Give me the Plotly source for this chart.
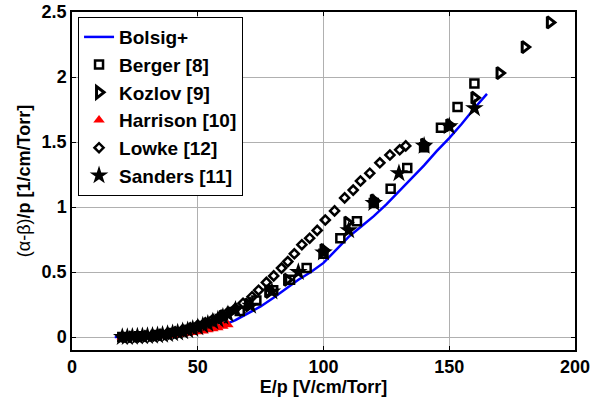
import plotly.graph_objects as go

# Bolsig+ computed curve
bolsig_x = [17, 20, 25, 30, 35, 40, 45, 50, 55, 60, 65, 70, 75, 80, 85, 90, 95, 100, 105, 110, 115, 120, 125, 130, 135, 140, 145, 150, 155, 160, 165]
bolsig_y = [0.0, 0.0, 0.002, 0.005, 0.01, 0.018, 0.03, 0.045, 0.065, 0.09, 0.13, 0.18, 0.235, 0.30, 0.37, 0.44, 0.50, 0.57, 0.67, 0.77, 0.85, 0.93, 1.02, 1.12, 1.22, 1.32, 1.43, 1.53, 1.64, 1.76, 1.87]

berger_x = [20, 26.7, 33.3, 40, 46.7, 53.3, 60, 66.7, 73.3, 80, 86.7, 93.3, 100, 106.7, 113.3, 120, 126.7, 133.3, 140, 146.7, 153.3, 160]
berger_y = [0.0, 0.005, 0.015, 0.03, 0.055, 0.09, 0.14, 0.20, 0.28, 0.36, 0.44, 0.53, 0.64, 0.76, 0.89, 1.03, 1.14, 1.30, 1.46, 1.61, 1.77, 1.95]

kozlov_x = [60, 70, 78, 85.5, 100, 109.5, 120, 140, 150, 160, 170, 180, 190]
kozlov_y = [0.16, 0.25, 0.35, 0.44, 0.67, 0.88, 1.05, 1.48, 1.63, 1.84, 2.03, 2.23, 2.42]

harrison_x = [20, 22, 24, 26, 28, 30, 32, 34, 36, 38, 40, 42, 44, 46, 48, 50, 52, 54, 56, 58, 60, 62]
harrison_y = [0.0, 0.0, 0.0, 0.002, 0.003, 0.005, 0.007, 0.009, 0.011, 0.013, 0.016, 0.019, 0.023, 0.028, 0.034, 0.04, 0.047, 0.055, 0.063, 0.072, 0.083, 0.095]

lowke_x = [20, 23, 26, 29, 32, 35, 38, 41, 44, 47, 50, 53, 56, 59, 62, 65, 68, 71.6, 74.2, 77.3, 80.2, 83.3, 85.8, 88.4, 91.4, 94.5, 97.5, 100.7, 104.4, 108.4, 111.8, 114.7, 118.4, 122.4, 126.4, 130.3, 132.7]
lowke_y = [0.0, 0.003, 0.006, 0.01, 0.015, 0.02, 0.03, 0.04, 0.055, 0.07, 0.09, 0.11, 0.135, 0.16, 0.19, 0.22, 0.26, 0.31, 0.36, 0.42, 0.47, 0.53, 0.58, 0.64, 0.71, 0.76, 0.82, 0.90, 0.97, 1.07, 1.13, 1.20, 1.26, 1.34, 1.40, 1.44, 1.47]

sanders_x = [20, 22, 24, 26, 28, 30, 32, 34, 36, 38, 40, 42, 44, 46, 48, 50, 52, 54, 56, 58, 60, 62, 65, 71, 79.5, 90, 100, 110, 120, 130, 140, 150, 160]
sanders_y = [0.0, 0.0, 0.002, 0.004, 0.006, 0.008, 0.01, 0.013, 0.017, 0.022, 0.028, 0.035, 0.043, 0.052, 0.063, 0.075, 0.088, 0.102, 0.118, 0.135, 0.155, 0.175, 0.21, 0.24, 0.35, 0.50, 0.65, 0.82, 1.03, 1.26, 1.47, 1.62, 1.76]

x_ticks = [0, 50, 100, 150, 200]
y_ticks = [0, 0.5, 1, 1.5, 2, 2.5]
y_tick_labels = ["0", "0.5", "1", "1.5", "2", "2.5"]

fig = go.Figure()
fig.add_trace(go.Scatter(x=bolsig_x, y=bolsig_y, mode="lines", name="<b>Bolsig+</b>",
                         line=dict(color="#0000ff", width=2.5)))
fig.add_trace(go.Scatter(x=berger_x, y=berger_y, mode="markers", name="<b>Berger [8]</b>",
                         marker=dict(symbol="square-open", size=8, color="black", line=dict(width=2.5, color="black"))))
fig.add_trace(go.Scatter(x=kozlov_x, y=kozlov_y, mode="markers", name="<b>Kozlov [9]</b>",
                         marker=dict(symbol="triangle-right-open", size=10, color="black", line=dict(width=3, color="black"))))
fig.add_trace(go.Scatter(x=harrison_x, y=harrison_y, mode="markers", name="<b>Harrison [10]</b>",
                         marker=dict(symbol="triangle-up", size=10, color="#ff0000", line=dict(width=0))))
fig.add_trace(go.Scatter(x=lowke_x, y=lowke_y, mode="markers", name="<b>Lowke [12]</b>",
                         marker=dict(symbol="diamond-open", size=7, color="black", line=dict(width=2.5, color="black"))))
fig.add_trace(go.Scatter(x=sanders_x, y=sanders_y, mode="markers", name="<b>Sanders [11]</b>",
                         marker=dict(symbol="star", size=14, color="black", line=dict(width=0))))

axis_common = dict(showline=True, linecolor="black", linewidth=1.5, mirror="allticks",
                   ticks="inside", ticklen=4, tickcolor="black", automargin=False,
                   showgrid=True, gridcolor="#b0b0b0", gridwidth=1, zeroline=False,
                   tickfont=dict(size=18, color="black", family="Liberation Sans", weight="bold"))

fig.update_layout(
    width=607, height=400,
    margin=dict(l=72, r=32, t=12, b=50),
    paper_bgcolor="white", plot_bgcolor="white",
    font=dict(family="Liberation Sans", size=18, color="black"),
    xaxis=dict(range=[0, 200], tickvals=x_ticks, ticktext=["<b>%d</b>" % v for v in x_ticks],
               title=dict(text="<b>E/p [V/cm/Torr]</b>", standoff=2,
                          font=dict(size=18, family="Liberation Sans")),
               **axis_common),
    yaxis=dict(range=[-0.1, 2.5], tickvals=y_ticks, ticktext=["<b>%s</b>" % t for t in y_tick_labels],
               title=dict(text="(α-β)<b>/p [1/cm/Torr]</b>", standoff=6,
                          font=dict(size=18, family="Liberation Sans")),
               **axis_common),
    legend=dict(x=0.012, y=0.985, xanchor="left", yanchor="top",
                bgcolor="white", bordercolor="black", borderwidth=1,
                font=dict(size=19, family="Liberation Sans", color="black"),
                itemwidth=30, tracegroupgap=0),
    showlegend=True,
)

fig.write_html("out.html")
